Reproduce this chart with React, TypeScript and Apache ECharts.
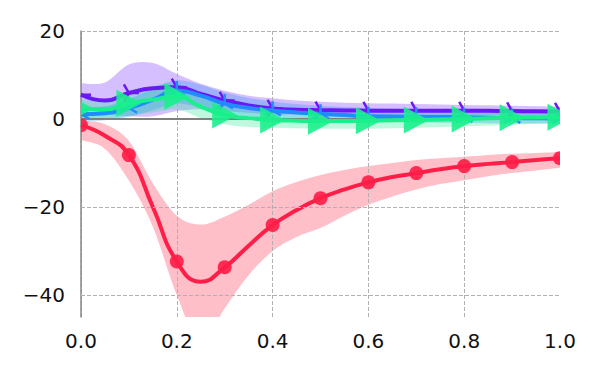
import React, { useEffect, useRef } from "react";
import * as echarts from "echarts";

const xs = [0, 0.05, 0.1, 0.15, 0.2, 0.25, 0.3, 0.35, 0.4, 0.45, 0.5, 0.55, 0.6, 0.65, 0.7, 0.75, 0.8, 0.85, 0.9, 0.95, 1.0];

const redMean = [-1.4, -3.8, -8.2, -20.0, -32.4, -37.0, -33.7, -28.8, -24.1, -20.7, -18.0, -16.0, -14.4, -13.2, -12.3, -11.4, -10.7, -10.2, -9.8, -9.3, -8.9];
const redLow = [-4.8, -6.8, -14.0, -24.5, -40.0, -51.0, -43.0, -35.5, -30.0, -26.8, -24.8, -22.0, -19.5, -17.6, -16.0, -14.8, -13.9, -13.0, -12.3, -11.7, -11.1];
const redHigh = [-0.3, -1.2, -5.0, -14.6, -22.0, -24.0, -22.2, -19.5, -16.4, -14.3, -12.7, -11.6, -10.7, -10.0, -9.3, -8.9, -8.6, -8.2, -7.9, -7.7, -7.5];

const purpleMean = [5.5, 4.2, 5.9, 7.0, 7.2, 5.7, 4.2, 3.1, 2.4, 2.1, 2.0, 1.95, 1.9, 1.9, 1.9, 1.9, 1.9, 1.85, 1.8, 1.75, 1.7];
const purpleLow = [3.2, 1.2, 0.6, 0.6, 1.8, 2.2, 1.8, 1.4, 1.1, 1.0, 0.9, 0.9, 0.9, 0.85, 0.85, 0.8, 0.8, 0.8, 0.75, 0.75, 0.7];
const purpleHigh = [8.1, 8.3, 12.4, 12.7, 10.2, 8.0, 6.4, 5.3, 4.7, 4.2, 3.9, 3.7, 3.6, 3.5, 3.4, 3.3, 3.2, 3.1, 3.0, 2.9, 2.8];

const blueMean = [1.1, 1.3, 2.5, 4.4, 6.5, 5.3, 3.5, 2.5, 1.9, 1.5, 1.2, 0.9, 0.6, 0.55, 0.5, 0.45, 0.4, 0.3, 0.2, 0.15, 0.1];
const blueLow = [-0.5, -0.3, 0.5, 2.0, 3.5, 2.6, 1.3, 0.6, 0.2, -0.1, -0.4, -0.55, -0.7, -0.75, -0.8, -0.85, -0.9, -0.95, -1.0, -1.05, -1.1];
const blueHigh = [2.6, 2.9, 4.5, 7.0, 8.8, 7.8, 6.0, 4.8, 4.0, 3.4, 3.0, 2.7, 2.5, 2.35, 2.2, 2.1, 2.0, 1.9, 1.8, 1.7, 1.6];

const greenMean = [2.4, 2.2, 3.6, 4.4, 5.1, 2.8, 0.9, 0.2, -0.2, -0.4, -0.5, -0.45, -0.4, -0.3, -0.2, -0.1, 0.0, 0.15, 0.3, 0.35, 0.4];
const greenLow = [0.0, -0.2, 0.8, 1.5, 2.2, 0.2, -1.2, -1.8, -2.0, -2.1, -2.2, -2.2, -2.2, -2.1, -2.0, -1.85, -1.7, -1.5, -1.3, -1.1, -0.9];
const greenHigh = [4.5, 4.5, 6.5, 7.5, 8.0, 5.5, 3.0, 1.8, 1.2, 1.0, 0.9, 0.9, 0.9, 0.95, 1.0, 1.1, 1.2, 1.3, 1.4, 1.5, 1.6];

const yTickLabels = [-40, -20, 0, 20];
const yGridLines = [-40, -20, 20];

const RED = "#ff1e48";
const PURPLE = "#6a19f5";
const BLUE = "#1f8cff";
const GREEN = "#19f08c";

const FONT = "DejaVu Sans";

function splinePath(pts: number[][], start: "M" | "L"): string {
  let d = `${start}${pts[0][0]},${pts[0][1]}`;
  for (let i = 0; i < pts.length - 1; i++) {
    const p0 = pts[i - 1] || pts[i];
    const p1 = pts[i];
    const p2 = pts[i + 1];
    const p3 = pts[i + 2] || pts[i + 1];
    const c1x = p1[0] + (p2[0] - p0[0]) / 6;
    const c1y = p1[1] + (p2[1] - p0[1]) / 6;
    const c2x = p2[0] - (p3[0] - p1[0]) / 6;
    const c2y = p2[1] - (p3[1] - p1[1]) / 6;
    d += ` C${c1x},${c1y} ${c2x},${c2y} ${p2[0]},${p2[1]}`;
  }
  return d;
}

function bandSeries(lo: number[], hi: number[], color: string) {
  return {
    type: "custom",
    coordinateSystem: "cartesian2d",
    clip: true,
    silent: true,
    z: 1,
    data: xs.map((x, i) => [x, lo[i], hi[i]]),
    encode: { x: 0, y: [1, 2] },
    renderItem: (params: any, api: any) => {
      if (params.dataIndex !== 0) return null;
      const top = xs.map((x, i) => api.coord([x, hi[i]]));
      const bot = xs.map((x, i) => api.coord([x, lo[i]])).reverse();
      const d = splinePath(top, "M") + " " + splinePath(bot, "L") + " Z";
      return { type: "path", shape: { pathData: d }, style: { fill: color } };
    },
  };
}

function meanLine(vals: number[], color: string, z: number) {
  return {
    type: "line",
    data: xs.map((x, i) => [x, vals[i]]),
    smooth: 0.5,
    symbol: "none",
    silent: true,
    z,
    lineStyle: { color, width: 4 },
  };
}

function markerSeries(vals: number[], z: number, draw: (px: number, py: number) => any) {
  return {
    type: "custom",
    coordinateSystem: "cartesian2d",
    clip: true,
    silent: true,
    z,
    data: xs.map((x, i) => [x, vals[i]]).filter((_, i) => i % 2 === 0),
    encode: { x: 0, y: 1 },
    renderItem: (params: any, api: any) => {
      const p = api.coord([api.value(0), api.value(1)]);
      return draw(p[0], p[1]);
    },
  };
}

const drawCircle = (px: number, py: number) => ({
  type: "circle",
  shape: { cx: px, cy: py, r: 7 },
  style: { fill: RED, opacity: 0.92 },
});

const drawTriRight = (px: number, py: number) => {
  const L = 10;
  return {
    type: "path",
    shape: {
      pathData: `M${px},${py}L${px + L},${py}M${px},${py}L${px - L / 2},${py - 0.866 * L}M${px},${py}L${px - L / 2},${py + 0.866 * L}`,
    },
    style: { fill: "none", stroke: PURPLE, lineWidth: 2.5 },
  };
};

const drawTriUp = (px: number, py: number) => {
  const L = 9.5;
  return {
    type: "path",
    shape: {
      pathData: `M${px},${py}L${px},${py - L}M${px},${py}L${px - 0.866 * L},${py + L / 2}M${px},${py}L${px + 0.866 * L},${py + L / 2}`,
    },
    style: { fill: "none", stroke: BLUE, lineWidth: 2.5 },
  };
};

const drawTriangle = (px: number, py: number) => ({
  type: "polygon",
  shape: { points: [[px - 12.5, py - 13.5], [px + 12.5, py], [px - 12.5, py + 13.5]] },
  style: { fill: GREEN, opacity: 0.9 },
});

const fmtY = (v: number) => (yTickLabels.includes(v) ? String(v).replace("-", "\u2212") : "");

export default function App() {
  const ref = useRef<HTMLDivElement>(null);
  useEffect(() => {
    if (!ref.current) return;
    const chart = echarts.init(ref.current, null, { renderer: "svg" });
    const option: any = {
      animation: false,
      grid: { left: 81, right: 40, top: 31, bottom: 58, containLabel: false },
      xAxis: {
        type: "value",
        min: 0,
        max: 1,
        interval: 0.2,
        z: 2,
        axisLine: { show: false },
        axisTick: { show: false },
        splitLine: { show: true, showMaxLine: false, lineStyle: { type: [4, 2], color: "#b0b0b0", width: 1 } },
        axisLabel: { fontSize: 20, fontFamily: FONT, color: "#111", margin: 14, formatter: (v: number) => v.toFixed(1) },
      },
      yAxis: {
        type: "value",
        min: -45,
        max: 20,
        interval: 5,
        z: 2,
        axisLine: { show: true, lineStyle: { color: "#888", width: 1.5 } },
        axisTick: { show: false },
        splitLine: { show: false },
        axisLabel: { fontSize: 20, fontFamily: FONT, color: "#111", margin: 16, formatter: fmtY },
      },
      series: [
        bandSeries(redLow, redHigh, "rgba(255,182,193,0.88)"),
        bandSeries(purpleLow, purpleHigh, "rgba(130,60,255,0.33)"),
        bandSeries(blueLow, blueHigh, "rgba(30,144,255,0.3)"),
        bandSeries(greenLow, greenHigh, "rgba(20,235,140,0.28)"),
        {
          type: "line",
          data: [[0, 0], [1, 0]],
          symbol: "none",
          silent: true,
          z: 2,
          lineStyle: { color: "#808080", width: 2 },
          markLine: {
            silent: true,
            symbol: ["none", "none"],
            label: { show: false },
            lineStyle: { type: [4, 2], color: "#b0b0b0", width: 1 },
            data: yGridLines.map((v) => ({ yAxis: v })),
          },
        },
        meanLine(redMean, RED, 3),
        markerSeries(redMean, 3, drawCircle),
        meanLine(purpleMean, PURPLE, 4),
        markerSeries(purpleMean, 4, drawTriRight),
        meanLine(blueMean, BLUE, 5),
        markerSeries(blueMean, 5, drawTriUp),
        meanLine(greenMean, GREEN, 6),
        markerSeries(greenMean, 6, drawTriangle),
      ],
    };
    chart.setOption(option);
    return () => chart.dispose();
  }, []);
  return <div ref={ref} style={{ width: 600, height: 375, position: "absolute", left: 0, top: 0 }} />;
}
